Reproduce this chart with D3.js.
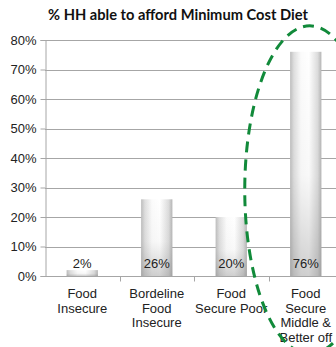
<!DOCTYPE html>
<html>
<head>
<meta charset="utf-8">
<script src="https://cdn.jsdelivr.net/npm/d3@7"></script>
<style>
  html, body { margin: 0; padding: 0; background: #fff; }
  svg { display: block; }
</style>
</head>
<body>
<div id="chart"></div>
<script>
// Share of households able to afford the Minimum Cost Diet, by wealth group
const categories = [
  ["Food", "Insecure"],
  ["Bordeline", "Food", "Insecure"],
  ["Food", "Secure Poor"],
  ["Food", "Secure", "Middle &", "Better off"]
];
const values = [2, 26, 20, 76];
const valueLabels = ["2%", "26%", "20%", "76%"];
const yTicks = [0, 10, 20, 30, 40, 50, 60, 70, 80];
const titleText = "% HH able to afford Minimum Cost Diet";

const W = 336, H = 347;
const margin = { top: 40, right: -8, bottom: 71, left: 45 };

const svg = d3.select("#chart").append("svg")
  .attr("width", W).attr("height", H);

const defs = svg.append("defs");
// horizontal shading: grey edges, white centre
const gH = defs.append("linearGradient").attr("id", "barH")
  .attr("x1", 0).attr("x2", 1).attr("y1", 0).attr("y2", 0);
[[0, "#bdbdbd"], [0.12, "#dedede"], [0.35, "#fbfbfb"], [0.6, "#ffffff"], [0.88, "#dcdcdc"], [1, "#b5b5b5"]]
  .forEach(([o, c]) => gH.append("stop").attr("offset", o).attr("stop-color", c));
// vertical shading: darker toward the base
const gV = defs.append("linearGradient").attr("id", "barV")
  .attr("x1", 0).attr("x2", 0).attr("y1", 0).attr("y2", 1);
[[0, "#888", 0], [0.55, "#888", 0.05], [1, "#777", 0.35]]
  .forEach(([o, c, a]) => gV.append("stop").attr("offset", o).attr("stop-color", c).attr("stop-opacity", a));
defs.append("filter").attr("id", "soft")
  .append("feGaussianBlur").attr("stdDeviation", 0.6);

const x = d3.scaleBand()
  .domain(d3.range(categories.length))
  .range([margin.left, margin.left + 74.5 * 4])
  .paddingInner(0.58).paddingOuter(0.29);
const step = x.step();
const y = d3.scaleLinear().domain([0, 80]).range([H - margin.bottom, margin.top]);

const font = "'Liberation Sans', Arial, sans-serif";

// title, sized to span the plot heading width
const title = svg.append("text")
  .attr("x", 178).attr("y", 20)
  .attr("text-anchor", "middle")
  .attr("font-family", "Lato, 'Liberation Sans', sans-serif")
  .attr("font-weight", "bold").attr("font-size", 13)
  .attr("fill", "#111")
  .text(titleText);
const tw = title.node().getComputedTextLength();
title.attr("font-size", 13 * 260 / tw);

// gridlines
svg.append("g").selectAll("line").data(yTicks.filter(d => d > 0)).join("line")
  .attr("x1", margin.left).attr("x2", W)
  .attr("y1", d => Math.round(y(d)) + 0.5).attr("y2", d => Math.round(y(d)) + 0.5)
  .attr("stroke", "#a6a6a6").attr("stroke-width", 1);

// y axis
const yAxis = svg.append("g")
  .attr("transform", `translate(${margin.left + 0.5},0)`)
  .call(d3.axisLeft(y).tickValues(yTicks).tickFormat(d => d + "%").tickSize(5).tickPadding(4));
yAxis.select(".domain").attr("stroke", "#a6a6a6");
yAxis.selectAll(".tick line").attr("stroke", "#a6a6a6");
yAxis.selectAll(".tick text").attr("font-family", font).attr("font-size", 13).attr("fill", "#222");

// bars
const bars = svg.append("g").selectAll("g").data(values).join("g");
bars.append("rect")
  .attr("x", (d, i) => x(i)).attr("width", x.bandwidth())
  .attr("y", d => y(d)).attr("height", d => y(0) - y(d))
  .attr("fill", "url(#barH)").attr("filter", "url(#soft)");
bars.append("rect")
  .attr("x", (d, i) => x(i)).attr("width", x.bandwidth())
  .attr("y", d => y(d)).attr("height", d => y(0) - y(d))
  .attr("fill", "url(#barV)");

// x axis
const baseY = Math.round(y(0)) + 0.5;
svg.append("line")
  .attr("x1", margin.left).attr("x2", W)
  .attr("y1", baseY).attr("y2", baseY)
  .attr("stroke", "#a6a6a6");
svg.append("g").selectAll("line").data(d3.range(1, categories.length + 1)).join("line")
  .attr("x1", i => Math.round(x(i - 1) + x.bandwidth() / 2 + step / 2) + 0.5)
  .attr("x2", i => Math.round(x(i - 1) + x.bandwidth() / 2 + step / 2) + 0.5)
  .attr("y1", baseY).attr("y2", baseY + 5)
  .attr("stroke", "#a6a6a6");

// value labels
svg.append("g").selectAll("text").data(valueLabels).join("text")
  .attr("x", (d, i) => x(i) + x.bandwidth() / 2)
  .attr("y", y(0) - 8)
  .attr("text-anchor", "middle")
  .attr("font-family", font).attr("font-size", 13).attr("fill", "#222")
  .text(d => d);

// category labels
const cat = svg.append("g").selectAll("text").data(categories).join("text")
  .attr("x", (d, i) => x(i) + x.bandwidth() / 2)
  .attr("y", y(0) + 22)
  .attr("text-anchor", "middle")
  .attr("font-family", font).attr("font-size", 13).attr("fill", "#222");
cat.selectAll("tspan").data(d => d).join("tspan")
  .attr("x", function () { return d3.select(this.parentNode).attr("x"); })
  .attr("dy", (d, j) => j === 0 ? 0 : 14.7)
  .text(d => d);

// dashed highlight around the last group
const last = categories.length - 1;
const cx = x(last) + x.bandwidth() / 2 + 4;
const cy = y(29.2);
svg.append("ellipse")
  .attr("cx", cx).attr("cy", cy)
  .attr("rx", 65).attr("ry", 164)
  .attr("fill", "none")
  .attr("stroke", "#118a3a").attr("stroke-width", 3)
  .attr("stroke-dasharray", "11 7");
</script>
</body>
</html>
